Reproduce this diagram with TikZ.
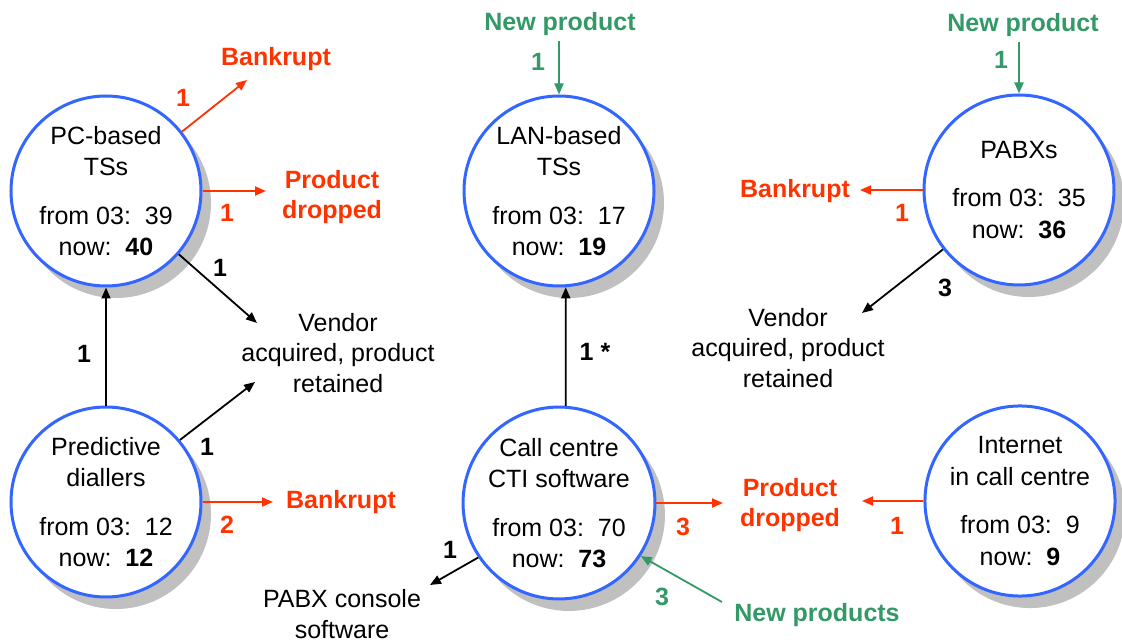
\documentclass[tikz,border=0pt]{standalone}
\usepackage{fontspec}
\setmainfont{Liberation Sans}
\usetikzlibrary{arrows.meta,shadows}

\definecolor{ringblue}{RGB}{51,102,255}
\definecolor{lossred}{RGB}{255,51,0}
\definecolor{gaingreen}{RGB}{51,153,102}
\definecolor{shadowgray}{RGB}{192,192,192}

\begin{document}
\begin{tikzpicture}[x=1pt,y=-1pt,
  every node/.style={font=\fontsize{25}{31.5}\selectfont, align=center, inner sep=0pt},
  market/.style={circle, draw=ringblue, line width=3pt, fill=white, minimum size=190pt,
    drop shadow={shadow xshift=10pt, shadow yshift=-12pt, fill=shadowgray, opacity=1}},
  plain/.style={font=\fontsize{25}{30.5}\selectfont},
  loss/.style={text=lossred, font=\fontsize{25}{30}\selectfont\bfseries},
  gain/.style={text=gaingreen, font=\fontsize{25}{30}\selectfont\bfseries},
  count/.style={font=\fontsize{25}{30}\selectfont\bfseries},
  tipshape/.style={-{Triangle[length=11pt,width=9pt]}},
  flow/.style={tipshape, line width=1.8pt, draw=black},
  lossflow/.style={tipshape, line width=1.8pt, draw=lossred},
  gainflow/.style={tipshape, line width=1.8pt, draw=gaingreen},
]
\useasboundingbox (0,0) rectangle (1122,644);

% market segments
\node[market] (pc)   at (106,191)  {PC-based\\TSs\\[17pt]from 03:\ \ 39\\now:\ \ \textbf{40}};
\node[market] (pd)   at (106,502)  {Predictive\\diallers\\[17pt]from 03:\ \ 12\\now:\ \ \textbf{12}};
\node[market] (lan)  at (559,191)  {LAN-based\\TSs\\[17pt]from 03:\ \ 17\\now:\ \ \textbf{19}};
\node[market] (cc)   at (559,503)  {Call centre\\CTI software\\[17pt]from 03:\ \ 70\\now:\ \ \textbf{73}};
\node[market] (pabx) at (1019,190) {PABXs\\[17pt]from 03:\ \ 35\\now:\ \ \textbf{36}};
\node[market] (inet) at (1020,501) {Internet\\in call centre\\[17pt]from 03:\ \ 9\\now:\ \ \textbf{9}};

% outcomes
\node[loss]  (bk1)    at (276,59)  {Bankrupt};
\node[loss]  (pdrop1) at (332,197) {Product\\dropped};
\node[plain] (vend1)  at (338,353) {Vendor\\acquired, product\\retained};
\node[loss]  (bk2)    at (341,502) {Bankrupt};
\node[gain]  (np1)    at (560,24)  {New product};
\node[gain]  (np2)    at (1023,25) {New product};
\node[loss]  (bk3)    at (795,191) {Bankrupt};
\node[plain] (vend2)  at (788,348) {Vendor\\acquired, product\\retained};
\node[loss]  (pdrop2) at (790,505) {Product\\dropped};
\node[plain] (pabxc)  at (342,614) {PABX console\\software};
\node[gain]  (nps)    at (817,615) {New products};

% arrow ends next to the outcome texts
\coordinate (t1)  at (247,80);
\coordinate (t2)  at (266,191);
\coordinate (t3)  at (257,323);
\coordinate (t4)  at (255,382);
\coordinate (t5)  at (273,502);
\coordinate (t6)  at (860,190);
\coordinate (t7)  at (862,313);
\coordinate (t8)  at (723,503);
\coordinate (t9)  at (862,501);
\coordinate (t10) at (430,585);
\coordinate (s11) at (722,602);

% movements
\draw[lossflow] (pc.38) -- (t1);
\draw[lossflow] (pc.east) -- (t2);
\draw[flow] (pc.-41) -- (t3);
\draw[flow] (pd.40) -- (t4);
\draw[flow] (pd.north) -- (pc.south);
\draw[lossflow] (pd.east) -- (t5);
\draw[gainflow] ([yshift=-5pt]lan.north |- np1.south) -- (lan.north);
\draw[flow] (cc.86) -- (lan.274);
\draw[gainflow] ([yshift=-5pt]pabx.north |- np2.south) -- (pabx.north);
\draw[lossflow] (pabx.west) -- (t6);
\draw[flow] (pabx.218) -- (t7);
\draw[lossflow] (cc.east) -- (t8);
\draw[lossflow] (inet.west) -- (t9);
\draw[flow] (cc.214) -- (t10);
\draw[gainflow] (s11) -- (cc.-33);

% counts
\node[count, text=lossred]   (n1)  at (183,98)  {1};
\node[count, text=lossred]   (n2)  at (227,213) {1};
\node[count]                 (n3)  at (220,268) {1};
\node[count]                 (n4)  at (207,447) {1};
\node[count]                 (n5)  at (84,354)  {1};
\node[count, text=lossred]   (n6)  at (227,525) {2};
\node[count, text=gaingreen] (n7)  at (538,62)  {1};
\node[count]                 (n8)  at (595,352) {1 *};
\node[count, text=gaingreen] (n9)  at (1001,60) {1};
\node[count, text=lossred]   (n10) at (902,213) {1};
\node[count]                 (n11) at (945,288) {3};
\node[count, text=lossred]   (n12) at (683,527) {3};
\node[count, text=lossred]   (n13) at (897,526) {1};
\node[count]                 (n14) at (450,550) {1};
\node[count, text=gaingreen] (n15) at (662,597) {3};
\end{tikzpicture}
\end{document}
